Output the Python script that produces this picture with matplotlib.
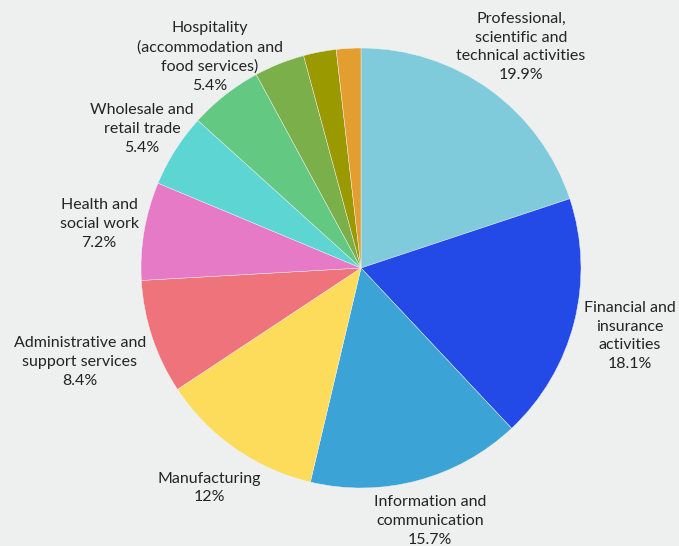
import matplotlib.pyplot as plt

# Share of businesses by sector (percent), clockwise from 12 o'clock
sectors = [
    "Professional,\nscientific and\ntechnical activities",
    "Financial and\ninsurance\nactivities",
    "Information and\ncommunication",
    "Manufacturing",
    "Administrative and\nsupport services",
    "Health and\nsocial work",
    "Wholesale and\nretail trade",
    "Hospitality\n(accommodation and\nfood services)",
    "Other 1",
    "Other 2",
    "Other 3",
]
shares = [19.9, 18.1, 15.7, 12, 8.4, 7.2, 5.4, 5.4, 3.7, 2.4, 1.8]
share_text = ["19.9%", "18.1%", "15.7%", "12%", "8.4%", "7.2%", "5.4%", "5.4%", None, None, None]
colors = ["#7fcbdc", "#2349e6", "#3ba3d6", "#fddc5c", "#ef737b", "#e77ac6",
          "#5cd5d3", "#62c882", "#7baf4a", "#9b9900", "#e39e2f"]

# label anchor points in pixel space (x, y from top)
label_pos = [(521, 47), (630, 336), (430, 521), (209, 488), (80, 362),
             (99, 224), (142, 129), (210, 57)]

BG = "#edf0ee"
W, H = 679, 546

fig = plt.figure(figsize=(W / 100, H / 100), dpi=100, facecolor=BG)
ax = fig.add_axes([0, 0, 1, 1])
ax.set_facecolor(BG)

ax.pie(shares, colors=colors, startangle=90, counterclock=False,
       center=(361, H - 268), radius=220,
       wedgeprops=dict(linewidth=0.3, edgecolor="#f4f4f4"))

# pie() rescales the axes, so fix the pixel frame afterwards
ax.set_xlim(0, W)
ax.set_ylim(0, H)
ax.set_aspect("equal")
ax.axis("off")

for name, txt, (x, y) in zip(sectors, share_text, label_pos):
    ax.text(x, H - y, f"{name}\n{txt}", ha="center", va="center",
            multialignment="center", fontsize=11.5, family="Lato",
            color="#242424", linespacing=1.45)

fig.savefig("out.png", dpi=100, facecolor=BG)
